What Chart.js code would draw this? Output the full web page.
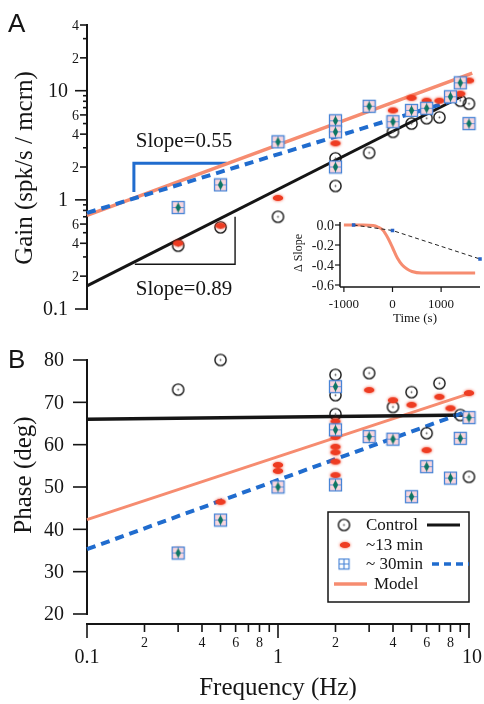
<!DOCTYPE html>
<html>
<head>
<meta charset="utf-8">
<title>Gain and phase vs frequency</title>
<script src="https://cdn.jsdelivr.net/npm/chart.js@4.4.1/dist/chart.umd.min.js"></script>
<style>
  html, body { margin: 0; padding: 0; background: #fff; }
  #wrap { position: relative; width: 484px; height: 704px; overflow: hidden; }
</style>
</head>
<body>
<div id="wrap">
  <canvas id="gainChart" width="484" height="335" style="position:absolute;left:0;top:0"></canvas>
  <canvas id="phaseChart" width="484" height="374" style="position:absolute;left:0;top:330px"></canvas>
  <canvas id="slopeChart" width="204" height="130" style="position:absolute;left:280px;top:200px"></canvas>
</div>
<script>
'use strict';

// panel A - gain (spk/s / mcrn)
var gainCtrlF = [0.3, 0.5, 1, 2, 2, 3, 4, 5, 6, 7, 9, 10];
var gainCtrl  = [0.38, 0.56, 0.70, 2.4, 1.34, 2.7, 4.2, 5.0, 5.6, 5.7, 8.1, 7.6];
var gain13F   = [0.3, 0.5, 1, 2, 2, 3, 4, 5, 6, 7, 9, 10];
var gain13    = [0.40, 0.58, 1.04, 3.3, 4.2, 7.0, 6.6, 8.6, 8.1, 8.1, 9.4, 12.4];
var gain30F   = [0.3, 0.5, 1, 2, 2, 2, 3, 4, 5, 6, 8, 9, 10];
var gain30    = [0.85, 1.37, 3.4, 5.3, 4.2, 2.0, 7.2, 5.2, 6.6, 6.9, 8.8, 11.8, 5.0];

var gainCtrlFitF = [0.1, 9.2];
var gainCtrlFit  = [0.163, 8.9];
var gain30FitF   = [0.1, 9.0];
var gain30Fit    = [0.76, 8.5];
var gainModelF   = [0.1, 10.4];
var gainModel    = [0.72, 14.5];

var slope55F = [0.176, 0.176, 0.54];
var slope55G = [1.18, 2.17, 2.17];
var slope89F = [0.178, 0.596, 0.596];
var slope89G = [0.257, 0.257, 0.70];

var gainTicks      = [0.1, 0.2, 0.3, 0.4, 0.5, 0.6, 0.7, 0.8, 0.9, 1, 2, 3, 4, 5, 6, 7, 8, 9, 10, 20, 30, 40];
var gainTickLabels = ['0.1', '2', '', '4', '', '6', '', '', '', '1', '2', '', '4', '', '6', '', '', '', '10', '2', '', '4'];
var gainMajor      = [0.1, 1, 10];

// panel B - phase (deg)
var phaseCtrlF = [0.3, 0.5, 2, 2, 2, 3, 4, 5, 6, 7, 9, 10];
var phaseCtrl  = [73, 80, 76.5, 71.7, 67.2, 76.9, 68.9, 72.4, 62.7, 74.5, 67, 52.4];
var phase13F   = [0.3, 0.5, 1, 1, 2, 2, 2, 2, 2, 2, 3, 4, 5, 6, 7, 8, 9, 10];
var phase13    = [35, 46.5, 55.2, 53.8, 65.5, 61.8, 59.5, 58.2, 56, 52.8, 72.9, 70.5, 69.4, 58.7, 71.3, 68.6, 61.5, 72.2];
var phase30F   = [0.3, 0.5, 1, 2, 2, 2, 3, 4, 5, 6, 8, 9, 10];
var phase30    = [34.4, 42.2, 50, 73.7, 63.5, 50.5, 61.9, 61.3, 47.7, 54.8, 52.1, 61.5, 66.4];

var phaseCtrlFitF = [0.1, 10];
var phaseCtrlFit  = [66, 67];
var phase30FitF   = [0.1, 9.3];
var phase30Fit    = [35.3, 67.5];
var phaseModelF   = [0.1, 10.4];
var phaseModel    = [42.3, 72.3];

var phaseTicks = [20, 30, 40, 50, 60, 70, 80];
var freqTicks      = [0.1, 0.2, 0.3, 0.4, 0.5, 0.6, 0.7, 0.8, 0.9, 1, 2, 3, 4, 5, 6, 7, 8, 9, 10];
var freqTickLabels = ['0.1', '2', '', '4', '', '6', '', '8', '', '1', '2', '', '4', '', '6', '', '8', '', '10'];
var freqMajor      = [0.1, 1, 10];

// inset - change of slope over time
var insetTime  = [-1000, -600, -400, -300, -200, -100, 0, 100, 200, 300, 400, 600, 1000, 1700];
var insetModel = [0, 0, -0.005, -0.02, -0.05, -0.125, -0.225, -0.33, -0.40, -0.44, -0.465, -0.48, -0.48, -0.48];
var insetFitT  = [-800, 0, 1800];
var insetFit   = [0, -0.055, -0.34];
var slopeTicks      = [0, -0.2, -0.4, -0.6];
var slopeTickLabels = ['0.0', '-0.2', '-0.4', '-0.6'];
var timeTicks       = [-1000, 0, 1000];

var SERIF = '"Liberation Serif", "Times New Roman", serif';
var SANS = '"Liberation Sans", Arial, sans-serif';
var BLACK = '#151515';
var BLUE = 'rgb(32,108,206)';
var ORANGE = 'rgb(246,140,112)';

function pts(xs, ys) {
    return xs.map(function (x, i) { return { x: x, y: ys[i] }; });
}

function markCanvas(w, h, draw) {
    var c = document.createElement('canvas');
    c.width = w;
    c.height = h;
    draw(c.getContext('2d'));
    return c;
}

var circleMark = markCanvas(15, 15, function (g) {
    g.strokeStyle = '#111';
    g.lineWidth = 1.4;
    g.beginPath(); g.arc(7.5, 7.5, 5.6, 0, Math.PI * 2); g.stroke();
    g.fillStyle = '#555';
    g.beginPath(); g.arc(7.5, 7.5, 0.9, 0, Math.PI * 2); g.fill();
});

var blobMark = markCanvas(20, 14, function (g) {
    g.shadowColor = 'rgba(240,60,30,0.85)';
    g.shadowBlur = 3;
    g.fillStyle = 'rgb(238,60,34)';
    g.beginPath(); g.ellipse(10, 7, 5.2, 3, 0, 0, Math.PI * 2); g.fill();
});

var squareMark = markCanvas(15, 15, function (g) {
    g.fillStyle = 'rgb(250,214,222)';
    g.fillRect(2, 2, 11, 11);
    g.strokeStyle = 'rgb(72,132,214)';
    g.lineWidth = 1.3;
    g.strokeRect(1.5, 1.5, 12, 12);
    g.lineWidth = 0.8;
    g.beginPath(); g.moveTo(7.5, 2); g.lineTo(7.5, 13); g.moveTo(2, 7.5); g.lineTo(13, 7.5); g.stroke();
    g.fillStyle = 'rgb(14,118,100)';
    g.beginPath(); g.moveTo(7.5, 2.5); g.lineTo(10.2, 7.5); g.lineTo(7.5, 12.5); g.lineTo(4.8, 7.5); g.closePath(); g.fill();
});

var squareKey = markCanvas(13, 13, function (g) {
    g.strokeStyle = 'rgb(72,132,214)';
    g.lineWidth = 1.2;
    g.strokeRect(1.5, 1.5, 10, 10);
    g.beginPath(); g.moveTo(6.5, 1.5); g.lineTo(6.5, 11.5); g.moveTo(1.5, 6.5); g.lineTo(11.5, 6.5); g.stroke();
});

function markSet(data, mark, order) {
    return { data: data, pointStyle: mark, pointRadius: 6, showLine: false, order: order };
}

function lineSet(data, color, width, dash, order) {
    return {
        data: data, showLine: true, borderColor: color, borderWidth: width,
        borderDash: dash || [], borderCapStyle: 'butt', pointRadius: 0, order: order
    };
}

function txt(g, s, x, y, font, align, base) {
    g.font = font;
    g.fillStyle = BLACK;
    g.textAlign = align || 'left';
    g.textBaseline = base || 'middle';
    g.fillText(s, x, y);
}

function vtxt(g, s, x, y, font) {
    g.save();
    g.translate(x, y);
    g.rotate(-Math.PI / 2);
    txt(g, s, 0, 0, font, 'center', 'middle');
    g.restore();
}

function seg(g, x1, y1, x2, y2) {
    g.beginPath(); g.moveTo(x1, y1); g.lineTo(x2, y2); g.stroke();
}

var baseOptions = function (padding, scales) {
    return {
        responsive: false,
        animation: false,
        devicePixelRatio: 1,
        events: [],
        clip: false,
        layout: { padding: padding },
        plugins: { legend: { display: false }, tooltip: { enabled: false } },
        scales: scales
    };
};

// ---- panel A ----
var gainFrame = {
    id: 'gainFrame',
    beforeDatasetsDraw: function (chart) {
        var g = chart.ctx, ys = chart.scales.y, x0 = chart.chartArea.left;
        g.save();
        g.strokeStyle = BLACK;
        g.lineWidth = 2;
        seg(g, x0, ys.getPixelForValue(0.1) + 1, x0, ys.getPixelForValue(40) - 1);
        g.lineWidth = 1.6;
        gainTicks.forEach(function (v, i) {
            var py = ys.getPixelForValue(v);
            var major = gainMajor.indexOf(v) >= 0;
            var lab = gainTickLabels[i];
            var len = major ? 12 : (lab ? 7 : 4);
            seg(g, x0 - len, py, x0, py);
            if (lab) {
                txt(g, lab, major ? 68 : 79, py + 1, (major ? '20px ' : '14px ') + SERIF, 'right');
            }
        });
        g.restore();
    },
    afterDatasetsDraw: function (chart) {
        var g = chart.ctx;
        g.save();
        txt(g, 'A', 8, 32, '26px ' + SANS, 'left', 'alphabetic');
        vtxt(g, 'Gain (spk/s / mcrn)', 25, 168, '25px ' + SERIF);
        txt(g, 'Slope=0.55', 184, 141, '21px ' + SERIF, 'center');
        txt(g, 'Slope=0.89', 184, 289, '21px ' + SERIF, 'center');
        g.restore();
    }
};

new Chart(document.getElementById('gainChart'), {
    type: 'scatter',
    data: {
        datasets: [
            markSet(pts(gain30F, gain30), squareMark, 1),
            markSet(pts(gain13F, gain13), blobMark, 2),
            markSet(pts(gainCtrlF, gainCtrl), circleMark, 3),
            lineSet(pts(gain30FitF, gain30Fit), BLUE, 4, [9, 6], 4),
            lineSet(pts(gainCtrlFitF, gainCtrlFit), BLACK, 3, null, 5),
            lineSet(pts(gainModelF, gainModel), ORANGE, 3.5, null, 6),
            lineSet(pts(slope55F, slope55G), BLUE, 3, null, 7),
            lineSet(pts(slope89F, slope89G), BLACK, 1.4, null, 7)
        ]
    },
    options: baseOptions({ left: 87, top: 25, right: 15, bottom: 26 }, {
        x: { type: 'logarithmic', min: 0.1, max: 10, display: false },
        y: { type: 'logarithmic', min: 0.1, max: 40, display: false }
    }),
    plugins: [gainFrame]
});

// ---- panel B ----
var phaseFrame = {
    id: 'phaseFrame',
    beforeDatasetsDraw: function (chart) {
        var g = chart.ctx, xs = chart.scales.x, ys = chart.scales.y, a = chart.chartArea;
        var axisY = a.bottom + 10;
        g.save();
        g.strokeStyle = BLACK;
        g.lineWidth = 2;
        seg(g, a.left, ys.getPixelForValue(20) + 1, a.left, ys.getPixelForValue(80) - 1);
        seg(g, a.left - 1, axisY, xs.getPixelForValue(10) + 1, axisY);
        g.lineWidth = 1.6;
        phaseTicks.forEach(function (v) {
            var py = ys.getPixelForValue(v);
            seg(g, a.left - 14, py, a.left, py);
            txt(g, String(v), 64, py + 1, '20px ' + SERIF, 'right');
        });
        freqTicks.forEach(function (v, i) {
            var px = xs.getPixelForValue(v);
            var major = freqMajor.indexOf(v) >= 0;
            var lab = freqTickLabels[i];
            seg(g, px, axisY, px, axisY + (major ? 14 : 8));
            if (lab) {
                if (major) {
                    txt(g, lab, px + (v === 10 ? 3 : 0), axisY + 34, '20px ' + SERIF, 'center');
                } else {
                    txt(g, lab, px, axisY + 19, '14px ' + SERIF, 'center');
                }
            }
        });
        g.restore();
    },
    afterDatasetsDraw: function (chart) {
        var g = chart.ctx;
        g.save();
        txt(g, 'B', 8, 38, '26px ' + SANS, 'left', 'alphabetic');
        vtxt(g, 'Phase (deg)', 24, 145, '25px ' + SERIF);
        txt(g, 'Frequency (Hz)', 278, 358, '25px ' + SERIF, 'center');

        // legend
        g.fillStyle = '#fff';
        g.fillRect(328, 182, 141, 90);
        g.strokeStyle = BLACK;
        g.lineWidth = 1.5;
        g.strokeRect(328, 182, 141, 90);
        var f = '17px ' + SERIF;
        g.drawImage(circleMark, 344 - 7.5, 195 - 7.5);
        txt(g, 'Control', 366, 196, f);
        g.lineWidth = 3;
        seg(g, 427, 195, 460, 195);
        g.drawImage(blobMark, 345 - 10, 215 - 7);
        txt(g, '~13 min', 366, 216, f);
        g.drawImage(squareKey, 344 - 6.5, 234 - 6.5);
        txt(g, '~ 30min', 366, 235, f);
        g.strokeStyle = BLUE;
        g.lineWidth = 3.5;
        g.setLineDash([7, 5]);
        seg(g, 432, 234, 469, 234);
        g.setLineDash([]);
        g.strokeStyle = ORANGE;
        seg(g, 334, 254, 367, 254);
        txt(g, 'Model', 374, 255, f);
        g.restore();
    }
};

new Chart(document.getElementById('phaseChart'), {
    type: 'scatter',
    data: {
        datasets: [
            markSet(pts(phase30F, phase30), squareMark, 1),
            markSet(pts(phase13F, phase13), blobMark, 2),
            markSet(pts(phaseCtrlF, phaseCtrl), circleMark, 3),
            lineSet(pts(phase30FitF, phase30Fit), BLUE, 4, [9, 6], 4),
            lineSet(pts(phaseCtrlFitF, phaseCtrlFit), BLACK, 3.5, null, 5),
            lineSet(pts(phaseModelF, phaseModel), ORANGE, 3, null, 6)
        ]
    },
    options: baseOptions({ left: 87, top: 30, right: 15, bottom: 90 }, {
        x: { type: 'logarithmic', min: 0.1, max: 10, display: false },
        y: { type: 'linear', min: 20, max: 80, display: false }
    }),
    plugins: [phaseFrame]
});

// ---- inset ----
var slopeFrame = {
    id: 'slopeFrame',
    beforeDatasetsDraw: function (chart) {
        var g = chart.ctx, xs = chart.scales.x, ys = chart.scales.y, a = chart.chartArea;
        var axisY = a.bottom + 2;
        g.save();
        g.strokeStyle = BLACK;
        g.lineWidth = 1.5;
        seg(g, a.left, a.top - 3, a.left, axisY);
        seg(g, a.left, axisY, a.right, axisY);
        g.lineWidth = 1.2;
        slopeTicks.forEach(function (v, i) {
            var py = ys.getPixelForValue(v);
            seg(g, a.left - 5, py, a.left, py);
            txt(g, slopeTickLabels[i], a.left - 6, py + 1, '14px ' + SERIF, 'right');
        });
        timeTicks.forEach(function (v) {
            var px = xs.getPixelForValue(v);
            seg(g, px, axisY, px, axisY + 5);
            txt(g, String(v), px, axisY + 18, '13px ' + SERIF, 'center');
        });
        txt(g, 'Time (s)', 135, 119, '13px ' + SERIF, 'center');
        vtxt(g, '\u0394 Slope', 19, 53, '12px ' + SERIF);
        g.restore();
    }
};

new Chart(document.getElementById('slopeChart'), {
    type: 'scatter',
    data: {
        datasets: [
            {
                data: pts(insetFitT, insetFit), showLine: true, borderColor: '#222', borderWidth: 1,
                borderDash: [4, 3], pointStyle: 'rect', pointRadius: 2.5, pointBorderWidth: 0,
                pointBackgroundColor: 'rgb(40,100,200)', order: 1
            },
            {
                data: pts(insetTime, insetModel), showLine: true, borderColor: ORANGE, borderWidth: 3,
                cubicInterpolationMode: 'monotone', pointRadius: 0, order: 2
            }
        ]
    },
    options: baseOptions({ left: 60, top: 25, right: 0, bottom: 45 }, {
        x: { type: 'linear', min: -1080, max: 1800, display: false },
        y: { type: 'linear', min: -0.6, max: 0, display: false }
    }),
    plugins: [slopeFrame]
});
</script>
</body>
</html>
